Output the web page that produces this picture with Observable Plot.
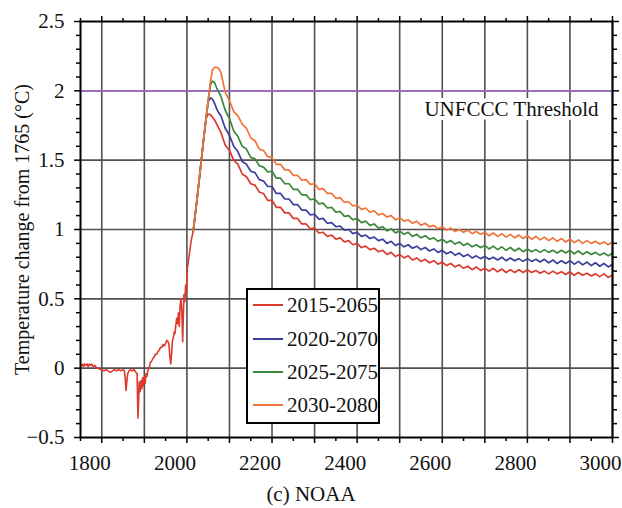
<!DOCTYPE html>
<html><head><meta charset="utf-8">
<script src="https://cdn.jsdelivr.net/npm/d3@7"></script>
<script src="https://cdn.jsdelivr.net/npm/@observablehq/plot@0.6"></script>
<style>
body{margin:0;background:#fff;font-family:"Liberation Serif","Times New Roman",serif;color:#111;}
#wrap{position:relative;width:622px;height:508px;overflow:hidden;}
#caption{position:absolute;left:0;width:622px;top:481px;height:26px;line-height:26px;text-align:center;font-size:21px;font-family:"Liberation Serif","Times New Roman",serif;}
#legend{position:absolute;left:246px;top:288px;width:130px;height:132px;border:2px solid #000;background:#fff;}
.item{position:absolute;left:5px;height:24px;line-height:24px;display:flex;align-items:center;font-size:21px;white-space:nowrap;font-family:"Liberation Serif","Times New Roman",serif;}
.item .sw{display:inline-block;width:30px;height:2px;margin-right:4px;}
</style></head>
<body>
<div id="wrap"><div id="chart"></div><div id="legend"></div><div id="caption"></div></div>
<script>
// ---- data ----
const seriesNames = ["2015-2065", "2020-2070", "2025-2075", "2030-2080"];
const seriesColors = ["#dc3a2c", "#3d3d9c", "#3b873b", "#f0743a"];
const threshold = 2;
const thresholdLabel = "UNFCCC Threshold";
const yTitle = "Temperature change from 1765 (°C)";
const captionText = "(c) NOAA";

const xTicks = [1800, 2000, 2200, 2400, 2600, 2800, 3000];
const xGrid = [1800, 1900, 2000, 2100, 2200, 2300, 2400, 2500, 2600, 2700, 2800, 2900, 3000];
const xMinor = [1750, 1850, 1950, 2050, 2150, 2250, 2350, 2450, 2550, 2650, 2750, 2850, 2950];
const yTicks = [-0.5, 0, 0.5, 1, 1.5, 2, 2.5];
const yGrid = [0, 0.5, 1, 1.5, 2];
const yMinor = [-0.4, -0.3, -0.2, -0.1, 0.1, 0.2, 0.3, 0.4, 0.6, 0.7, 0.8, 0.9, 1.1, 1.2, 1.3, 1.4, 1.6, 1.7, 1.8, 1.9, 2.1, 2.2, 2.3, 2.4];

// observed history (shared by all scenarios)
const histYears = [1752,1755,1757,1760,1763,1766,1768,1771,1774,1777,1780,1784,1788,1792,1796,1800,1805,1810,1815,1820,1825,1830,1835,1840,1845,1850,1853,1855,1857,1859,1861,1864,1868,1872,1876,1880,1883,1885,1887,1888,1890,1892,1894,1896,1898,1900,1902,1904,1906,1908,1911,1914,1917,1920,1923,1926,1929,1932,1935,1938,1941,1944,1947,1950,1953,1956,1958,1960,1962,1964,1966,1968,1970,1972,1974,1976,1978,1980,1982,1984,1986,1988,1990,1991,1993,1995,1997,1999,2001,2004,2007,2010,2015];
const histValues = [0.02,0.03,0.01,0.03,0.02,0.03,0.01,0.03,0.02,0.03,0.01,0.02,0.0,0.0,-0.01,-0.01,-0.02,-0.01,-0.02,-0.03,-0.02,-0.01,-0.02,-0.01,-0.02,-0.01,-0.02,-0.07,-0.16,-0.09,-0.04,-0.02,-0.01,-0.02,-0.01,-0.03,-0.04,-0.36,-0.2,-0.1,-0.17,-0.09,-0.15,-0.07,-0.13,-0.06,-0.11,-0.04,-0.06,-0.02,0.0,0.04,0.05,0.07,0.08,0.1,0.1,0.12,0.13,0.15,0.15,0.17,0.16,0.18,0.2,0.19,0.17,0.08,0.03,0.1,0.2,0.22,0.26,0.25,0.31,0.36,0.32,0.4,0.3,0.45,0.5,0.42,0.19,0.3,0.53,0.48,0.6,0.55,0.72,0.78,0.85,0.92,0.99];

// common rise
const riseYears = [2020, 2025, 2030, 2035, 2040, 2045];
const riseValues = [1.12, 1.25, 1.39, 1.53, 1.67, 1.80];

// peak section, per scenario
const peakYears = [2050, 2055, 2060, 2065, 2070, 2075];
const peakRed    = [1.83, 1.83, 1.81, 1.79, 1.76, 1.73];
const peakBlue   = [1.92, 1.95, 1.94, 1.91, 1.87, 1.84];
const peakGreen  = [1.93, 2.04, 2.07, 2.06, 2.02, 1.99];
const peakOrange = [1.93, 2.06, 2.15, 2.17, 2.17, 2.16];

// decline, per scenario
const tailYears = [2080,2090,2100,2110,2120,2130,2140,2150,2160,2170,2180,2190,2200,2210,2220,2230,2240,2250,2260,2270,2280,2290,2300,2310,2320,2330,2340,2350,2360,2370,2380,2390,2400,2410,2420,2430,2440,2450,2460,2470,2480,2490,2500,2510,2520,2530,2540,2550,2560,2570,2580,2590,2600,2610,2620,2630,2640,2650,2660,2670,2680,2690,2700,2710,2720,2730,2740,2750,2760,2770,2780,2790,2800,2810,2820,2830,2840,2850,2860,2870,2880,2890,2900,2910,2920,2930,2940,2950,2960,2970,2980,2990,3000];
const tailRed = [1.70,1.61,1.57,1.50,1.47,1.40,1.38,1.33,1.32,1.27,1.26,1.21,1.21,1.16,1.16,1.12,1.12,1.08,1.08,1.04,1.04,1.005,1.01,0.975,0.98,0.95,0.96,0.93,0.94,0.91,0.92,0.89,0.90,0.87,0.88,0.855,0.865,0.84,0.85,0.82,0.835,0.805,0.82,0.795,0.81,0.78,0.795,0.77,0.785,0.76,0.775,0.75,0.765,0.74,0.755,0.73,0.745,0.72,0.735,0.71,0.73,0.705,0.72,0.70,0.72,0.695,0.715,0.69,0.71,0.69,0.71,0.69,0.71,0.69,0.705,0.685,0.70,0.68,0.70,0.68,0.695,0.675,0.695,0.67,0.69,0.67,0.685,0.665,0.68,0.66,0.68,0.655,0.67];
const tailBlue = [1.82,1.73,1.68,1.60,1.56,1.49,1.47,1.42,1.41,1.36,1.35,1.31,1.31,1.26,1.26,1.22,1.22,1.18,1.18,1.14,1.14,1.105,1.11,1.075,1.08,1.045,1.05,1.02,1.025,0.995,1.00,0.97,0.98,0.95,0.96,0.935,0.945,0.92,0.93,0.90,0.915,0.885,0.90,0.875,0.89,0.865,0.88,0.855,0.87,0.845,0.86,0.835,0.85,0.825,0.84,0.815,0.83,0.805,0.82,0.795,0.81,0.79,0.805,0.785,0.80,0.78,0.80,0.775,0.795,0.775,0.79,0.77,0.79,0.77,0.785,0.765,0.785,0.76,0.78,0.755,0.775,0.755,0.775,0.75,0.77,0.745,0.765,0.74,0.76,0.735,0.755,0.73,0.75];
const tailGreen = [1.96,1.86,1.80,1.71,1.67,1.60,1.58,1.52,1.51,1.46,1.45,1.415,1.42,1.37,1.37,1.33,1.33,1.29,1.29,1.25,1.25,1.215,1.22,1.185,1.19,1.155,1.16,1.125,1.13,1.095,1.10,1.07,1.08,1.05,1.06,1.03,1.04,1.01,1.02,0.99,1.005,0.975,0.99,0.965,0.98,0.95,0.965,0.94,0.955,0.93,0.94,0.915,0.93,0.905,0.92,0.895,0.91,0.885,0.90,0.875,0.89,0.87,0.885,0.86,0.88,0.855,0.875,0.85,0.87,0.845,0.865,0.84,0.86,0.84,0.855,0.835,0.855,0.835,0.85,0.83,0.85,0.83,0.85,0.825,0.845,0.82,0.84,0.82,0.835,0.815,0.83,0.81,0.83];
const tailOrange = [2.13,1.99,1.93,1.85,1.82,1.76,1.73,1.66,1.64,1.58,1.57,1.525,1.52,1.47,1.47,1.43,1.43,1.39,1.39,1.355,1.36,1.325,1.33,1.29,1.295,1.26,1.26,1.225,1.23,1.195,1.20,1.17,1.175,1.145,1.155,1.125,1.135,1.105,1.115,1.09,1.10,1.07,1.085,1.06,1.07,1.045,1.06,1.03,1.045,1.02,1.03,1.005,1.02,0.995,1.01,0.985,1.00,0.98,0.995,0.97,0.985,0.965,0.98,0.955,0.975,0.95,0.97,0.945,0.965,0.94,0.96,0.935,0.955,0.93,0.95,0.925,0.945,0.92,0.94,0.915,0.935,0.91,0.93,0.905,0.925,0.90,0.92,0.90,0.915,0.895,0.91,0.89,0.91];

// ---- assemble ----
const history = histYears.map((year, i) => ({year, value: histValues[i]}));
const peaks = [peakRed, peakBlue, peakGreen, peakOrange];
const tails = [tailRed, tailBlue, tailGreen, tailOrange];
const rows = [];
seriesNames.forEach((name, s) => {
  rows.push({series: name, year: histYears[histYears.length - 1], value: histValues[histValues.length - 1]});
  riseYears.forEach((year, i) => rows.push({series: name, year, value: riseValues[i]}));
  peakYears.forEach((year, i) => rows.push({series: name, year, value: peaks[s][i]}));
  tailYears.forEach((year, i) => rows.push({series: name, year, value: tails[s][i]}));
});

const font = "'Liberation Serif', 'Times New Roman', serif";
const tickStyle = {stroke: "#000", strokeWidth: 1.5, label: null, tickFormat: () => ""};
const fmtY = d => (d < 0 ? "\u2212" + String(-d) : String(d));

const chart = Plot.plot({
  width: 622, height: 475,
  marginLeft: 80, marginRight: 10, marginTop: 21, marginBottom: 38,
  style: {fontFamily: font, fontSize: "21px", background: "white", color: "#111", overflow: "visible"},
  x: {domain: [1750, 3000], axis: null},
  y: {domain: [-0.5, 2.5], axis: null},
  color: {domain: seriesNames, range: seriesColors},
  marks: [
    Plot.gridX(xGrid, {stroke: "#554e4e", strokeOpacity: 1, strokeWidth: 1.6}),
    Plot.gridY(yGrid, {stroke: "#554e4e", strokeOpacity: 1, strokeWidth: 1.6}),
    Plot.ruleY([threshold], {stroke: "#9e6ec6", strokeWidth: 1.8}),
    Plot.line(history, {x: "year", y: "value", stroke: seriesColors[0], strokeWidth: 1.6}),
    Plot.line(rows, {x: "year", y: "value", z: "series", stroke: "series", strokeWidth: 1.7}),
    Plot.text([thresholdLabel], {x: 3000, y: threshold, textAnchor: "end", dx: -14, dy: 18, fontSize: 21, fontFamily: font, fill: "#111", stroke: "white", strokeWidth: 8}),
    Plot.frame({stroke: "#000", strokeWidth: 2}),
    Plot.axisX(xMinor, {anchor: "bottom", tickSize: 4, ...tickStyle}),
    Plot.axisX(xMinor, {anchor: "top", tickSize: 4, ...tickStyle}),
    Plot.axisX(xGrid, {anchor: "bottom", tickSize: 6, ...tickStyle}),
    Plot.axisX(xGrid, {anchor: "top", tickSize: 6, ...tickStyle}),
    Plot.axisY(yMinor, {anchor: "left", tickSize: 4, ...tickStyle}),
    Plot.axisY(yMinor, {anchor: "right", tickSize: 4, ...tickStyle}),
    Plot.axisY(yTicks, {anchor: "right", tickSize: 6, ...tickStyle}),
    Plot.axisY(yTicks, {anchor: "left", tickSize: 6, ...tickStyle}),
    // tick labels
    Plot.text(xTicks, {x: d => d, text: d => String(d), frameAnchor: "bottom", dy: 32, dx: -12, fontSize: 21, fontFamily: font, fill: "#111"}),
    Plot.text(yTicks, {y: d => d, text: fmtY, frameAnchor: "left", textAnchor: "end", dx: -16, fontSize: 21, fontFamily: font, fill: "#111"}),
    Plot.text([yTitle], {frameAnchor: "left", textAnchor: "middle", dx: -58, rotate: -90, fontSize: 20, fontFamily: font, fill: "#111"})
  ]
});
document.getElementById("chart").appendChild(chart);

// legend
const legend = document.getElementById("legend");
const itemTops = [3, 37, 70, 103];
seriesNames.forEach((name, i) => {
  const el = document.createElement("div");
  el.className = "item";
  el.style.top = itemTops[i] + "px";
  const sw = document.createElement("span");
  sw.className = "sw";
  sw.style.background = seriesColors[i];
  el.appendChild(sw);
  el.appendChild(document.createTextNode(name));
  legend.appendChild(el);
});
document.getElementById("caption").textContent = captionText;
</script>
</body></html>
